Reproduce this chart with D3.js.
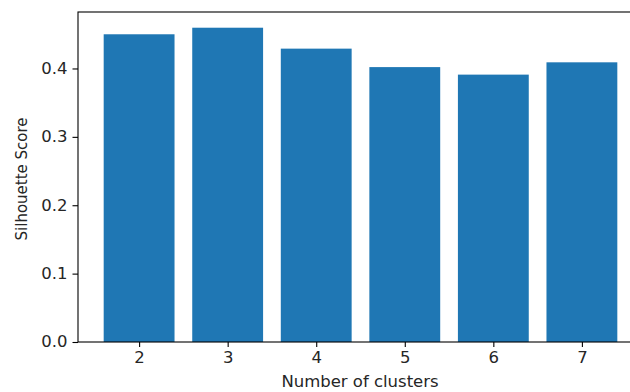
<!DOCTYPE html>
<html>
<head>
<meta charset="utf-8">
<script src="https://cdn.jsdelivr.net/npm/d3@7"></script>
<style>
  html, body { margin: 0; padding: 0; background: #fff; }
  svg { display: block; font-family: "DejaVu Sans", sans-serif; }
</style>
</head>
<body>
<svg id="chart" width="630" height="392"></svg>
<script>
const clusters = [2, 3, 4, 5, 6, 7];
const scores = [0.450, 0.4596, 0.429, 0.402, 0.391, 0.409];
const yTicks = [0.0, 0.1, 0.2, 0.3, 0.4];
const xLabel = "Number of clusters";
const yLabel = "Silhouette Score";

(function () {
const svg = d3.select("#chart");
const mLeft = 78, mRight = 643, mTop = 12, mBottom = 342;
const fontSize = 15;
const sx = 1.1; // horizontal stretch of the reference text
const textColor = "#262626";
const barWidth = 0.8;

const xMin = d3.min(clusters) - barWidth / 2, xMax = d3.max(clusters) + barWidth / 2;
const xPad = (xMax - xMin) * 0.05;
const x = d3.scaleLinear().domain([xMin - xPad, xMax + xPad]).range([mLeft, mRight]);
const y = d3.scaleLinear().domain([0, d3.max(scores) * 1.05]).range([mBottom, mTop]);

svg.append("g").selectAll("rect").data(clusters).join("rect")
  .attr("x", d => x(d - barWidth / 2))
  .attr("width", d => x(d + barWidth / 2) - x(d - barWidth / 2))
  .attr("y", (d, i) => y(scores[i]))
  .attr("height", (d, i) => y(0) - y(scores[i]))
  .attr("fill", "#1f77b4");

const xAxis = svg.append("g").attr("transform", `translate(0,${mBottom})`)
  .call(d3.axisBottom(x).tickValues(clusters).tickFormat(d3.format("d")).tickSize(5).tickPadding(5));
const yAxis = svg.append("g").attr("transform", `translate(${mLeft},0)`)
  .call(d3.axisLeft(y).tickValues(yTicks).tickFormat(d3.format(".1f")).tickSize(5.5).tickPadding(5));

[xAxis, yAxis].forEach(g => {
  g.select(".domain").remove();
  g.selectAll(".tick line").attr("stroke", "#000").attr("stroke-width", 1.1);
  g.selectAll(".tick text").attr("fill", textColor).style("font-size", fontSize + "px").style("font-family", "DejaVu Sans");
});
xAxis.selectAll(".tick text").attr("transform", `scale(${sx},1)`);
yAxis.selectAll(".tick text").attr("x", 0).attr("transform", `translate(-10.5,0) scale(${sx},1)`);

const sp = svg.append("g").attr("stroke", "#000").attr("stroke-width", 1.1).attr("fill", "none");
sp.append("rect").attr("x", mLeft).attr("y", mTop).attr("width", mRight - mLeft).attr("height", mBottom - mTop);

svg.append("text").attr("transform", `translate(${(mLeft + mRight) / 2 - 0.5},387) scale(${sx},1)`)
  .attr("text-anchor", "middle").attr("fill", textColor).style("font-size", fontSize + "px")
  .text(xLabel);
svg.append("text").attr("transform", `translate(27,${(mTop + mBottom) / 2 + 2}) scale(${sx},1) rotate(-90)`)
  .attr("text-anchor", "middle").attr("fill", textColor).style("font-size", fontSize + "px")
  .text(yLabel);
})();
</script>
</body>
</html>
